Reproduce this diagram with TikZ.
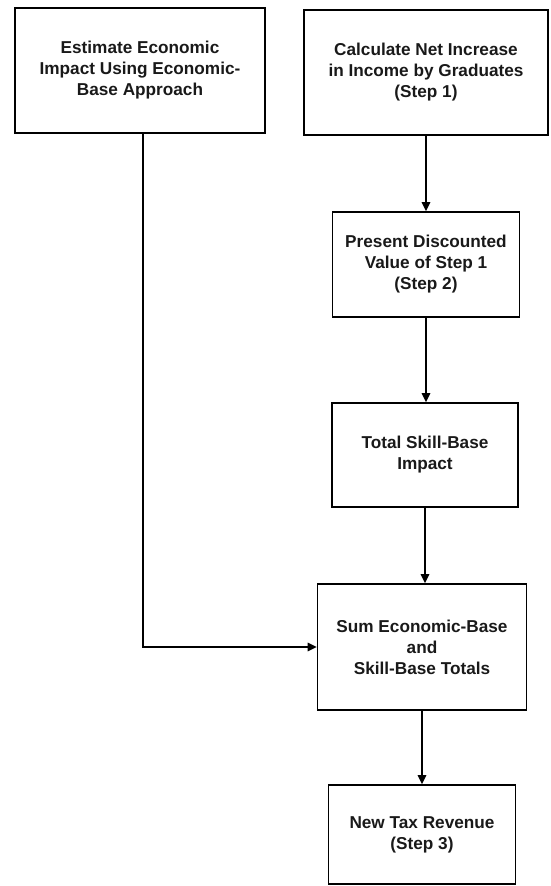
\documentclass[tikz,border=0pt]{standalone}
\usepackage{fontspec}
\setmainfont{Liberation Sans}
\usetikzlibrary{arrows.meta}
\begin{document}
\begin{tikzpicture}[x=1pt,y=-1pt,
  box/.style={draw=black, line width=1.6pt, inner sep=0pt, align=center,
    font=\bfseries\fontsize{17.2}{21}\selectfont, text=black!90},
  link/.style={line width=1.6pt, -{Triangle[length=9pt,width=8.5pt]}}]
\useasboundingbox (0,0) rectangle (550,886);
\node[box, minimum width=250pt, minimum height=125pt] (A) at (140,70.5)
  {Estimate Economic\\Impact Using Economic-\\Base Approach};
\node[box, minimum width=244pt, minimum height=125pt] (B) at (426,72.5)
  {Calculate Net Increase\\in Income by Graduates\\(Step 1)};
\node[box, minimum width=187pt, minimum height=105pt] (C) at (426,264.5)
  {Present Discounted\\Value of Step 1\\(Step 2)};
\node[box, minimum width=186pt, minimum height=104pt] (D) at (425,455)
  {Total Skill-Base\\Impact};
\node[box, minimum width=209pt, minimum height=126pt] (E) at (422,647)
  {Sum Economic-Base\\and\\Skill-Base Totals};
\node[box, minimum width=187pt, minimum height=99pt] (F) at (422,834.5)
  {New Tax Revenue\\(Step 3)};
\draw[link] (B.south) -- (B.south |- C.north);
\draw[link] (C.south) -- (C.south |- D.north);
\draw[link] (D.south) -- (D.south |- E.north);
\draw[link] (E.south) -- (E.south |- F.north);
\draw[link] ([xshift=3pt]A.south) |- (E.west);
\end{tikzpicture}
\end{document}
